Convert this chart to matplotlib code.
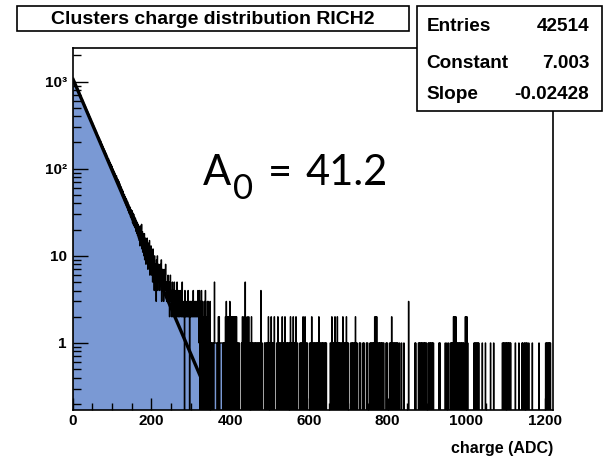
import numpy as np
import matplotlib
matplotlib.use("Agg")
import matplotlib.pyplot as plt
from matplotlib.patches import Rectangle
from matplotlib.ticker import MultipleLocator, FixedLocator, LogLocator, NullFormatter

plt.rcParams["font.family"] = ["Liberation Sans", "DejaVu Sans"]

# ---------------- data ----------------
title = "Clusters charge distribution RICH2"
x_label = "charge (ADC)"
stats_labels = ["Entries", "Constant", "Slope"]
stats_values = ["42514", "7.003", "-0.02428"]
annotation_parts = ["A", "0", "=", "41.2"]

fit_constant = 7.003
fit_slope = -0.02428
fit_range = (0, 325)

bin_width = 1          # ADC per bin
x_max = 1220
x_ticks = [0, 200, 400, 600, 800, 1000, 1200]
y_ticks = [1, 10, 100, 1000]
y_tick_labels = ["1", "10", "10\u00b2", "10\u00b3"]
y_limits = (0.17, 2450)

# counts per 1-ADC bin, charge 0..319 (read / estimated from the picture)
head_counts = [
    1030, 1068, 1041, 1012, 1019, 968, 979, 921, 934, 880,      # 0
    871, 838, 846, 797, 779, 781, 741, 748, 707, 702,           # 10
    676, 684, 642, 641, 613, 618, 581, 586, 557, 553,           # 20
    544, 516, 522, 492, 494, 467, 473, 446, 450, 425,           # 30
    413, 423, 396, 398, 375, 381, 356, 364, 340, 343,           # 40
    338, 319, 322, 301, 308, 287, 292, 274, 279, 262,           # 50
    266, 249, 254, 238, 241, 226, 231, 215, 221, 206,           # 60
    200, 208, 190, 195, 181, 188, 172, 179, 164, 170,           # 70
    166, 154, 160, 145, 152, 139, 145, 132, 138, 126,           # 80
    122, 130, 116, 123, 111, 118, 106, 113, 101, 108,           # 90
    105, 93, 100, 88, 95, 84, 91, 80, 87, 76,                   # 100
    75, 83, 70, 78, 67, 75, 64, 72, 61, 68,                     # 110
    66, 56, 63, 53, 60, 50, 57, 48, 55, 46,                     # 120
    44, 51, 42, 48, 40, 46, 38, 44, 36, 42,                     # 130
    41, 33, 39, 31, 37, 30, 36, 28, 34, 27,                     # 140
    26, 33, 24, 31, 23, 30, 22, 28, 21, 27,                     # 150
    26, 19, 25, 18, 24, 17, 23, 16, 22, 15,                     # 160
    21, 13, 22, 14, 20, 23, 12, 19, 11, 18,                     # 170
    17, 10, 18, 9, 16, 13, 8, 15, 11, 16,                       # 180
    13, 7, 14, 8, 12, 15, 6, 11, 9, 13,                         # 190
    11, 6, 10, 5, 12, 7, 9, 4, 10, 8,                           # 200
    8, 6, 3, 9, 5, 10, 4, 7, 8, 5,                              # 210
    7, 4, 8, 5, 6, 9, 3, 6, 7, 4,                               # 220
    6, 3, 7, 5, 4, 6, 8, 4, 5, 3,                               # 230
    5, 3, 6, 4, 3, 5, 2, 4, 6, 3,                               # 240
    4, 2, 3, 5, 2, 3, 4, 2, 5, 3,                               # 250
    3, 2, 4, 2, 3, 5, 2, 3, 2, 4,                               # 260
    2, 3, 2, 4, 3, 2, 3, 2, 5, 2,                               # 270
    3, 2, 2, 3, 0, 4, 2, 3, 2, 2,                               # 280
    3, 2, 2, 4, 2, 2, 3, 0, 2, 3,                               # 290
    2, 3, 2, 2, 3, 2, 4, 2, 2, 3,                               # 300
    2, 2, 3, 2, 2, 3, 2, 2, 4, 2,                               # 310
]

# counts per 1-ADC bin, charge 320..1219, one digit per bin (estimated)
tail_counts = (
    "3140230412"  # 320
    "3021032410"  # 330
    "2031302103"  # 340
    "1010110101"  # 350
    "5111111010"  # 360
    "2020111111"  # 370
    "1101011021"  # 380
    "3021202103"  # 390
    "1202120121"  # 400
    "0201202110"  # 410
    "1101000001"  # 420
    "0210121050"  # 430
    "1102010210"  # 440
    "1101201101"  # 450
    "1011010110"  # 460
    "1101011040"  # 470
    "1100000101"  # 480
    "1101101201"  # 490
    "0110210101"  # 500
    "1020000010"  # 510
    "1201101011"  # 520
    "0120110102"  # 530
    "1011010110"  # 540
    "1012010110"  # 550
    "2010110201"  # 560
    "1100000101"  # 570
    "1010121010"  # 580
    "2011011000"  # 590
    "0010110201"  # 600
    "1011010110"  # 610
    "1010121011"  # 620
    "0110101101"  # 630
    "1010100000"  # 640
    "0000110120"  # 650
    "1101012011"  # 660
    "0120110101"  # 670
    "1011012011"  # 680
    "0101120101"  # 690
    "1000001011"  # 700
    "0101101021"  # 710
    "0110000010"  # 720
    "1100000101"  # 730
    "1000001011"  # 740
    "0000010110"  # 750
    "1011010210"  # 760
    "2120101101"  # 770
    "0110101101"  # 780
    "1000001011"  # 790
    "0000010110"  # 800
    "2101101011"  # 810
    "0101101000"  # 820
    "1000010000"  # 830
    "0100000000"  # 840
    "0003000000"  # 850
    "0000000001"  # 860
    "0100000010"  # 870
    "1011010110"  # 880
    "1101011010"  # 890
    "0001011010"  # 900
    "1101011000"  # 910
    "0000000000"  # 920
    "1011000000"  # 930
    "0000001000"  # 940
    "1000100001"  # 950
    "1010110212"  # 960
    "0212011010"  # 970
    "1101011010"  # 980
    "1101000212"  # 990
    "0201000000"  # 1000
    "0000000001"  # 1010
    "0110101101"  # 1020
    "0100000000"  # 1030
    "1000000010"  # 1040
    "0000000000"  # 1050
    "0100000001"  # 1060
    "0000000000"  # 1070
    "0000000000"  # 1080
    "0110101101"  # 1090
    "1010110101"  # 1100
    "1010000000"  # 1110
    "0000100000"  # 1120
    "0001000000"  # 1130
    "0101000101"  # 1140
    "0010100010"  # 1150
    "0000000100"  # 1160
    "0000000000"  # 1170
    "0000100000"  # 1180
    "0000000000"  # 1190
    "0110101101"  # 1200
    "0101000000"  # 1210
)

fill_color = "#7a99d4"

# ---------------- figure ----------------
W, H = 608, 458
fig = plt.figure(figsize=(W / 100, H / 100), dpi=100)


def fx(px):
    return px / W


def fy(py):
    return 1 - py / H


ax_left, ax_right, ax_top, ax_bottom = 72.5, 553.0, 47.7, 410.0
ax = fig.add_axes([fx(ax_left), fy(ax_bottom), (ax_right - ax_left) / W,
                   (ax_bottom - ax_top) / H])

counts = np.array(head_counts + [int(c) for c in tail_counts], dtype=float)
edges = np.arange(0, len(counts) + 1) * bin_width
floor = 1e-3
plot_counts = np.where(counts > 0, counts, floor)

ax.stairs(plot_counts, edges, baseline=floor, fill=True, color=fill_color,
          lw=0, zorder=1)
ax.stairs(plot_counts, edges, baseline=floor, color="black", lw=0.95, zorder=2)

xf = np.linspace(fit_range[0], fit_range[1], 200)
ax.plot(xf, np.exp(fit_constant + fit_slope * xf), color="black", lw=2.4,
        zorder=3, solid_capstyle="butt")

ax.set_yscale("log")
ax.set_xlim(0, x_max)
ax.set_ylim(*y_limits)

ax.set_xticks(x_ticks)
ax.set_xticklabels([str(t) for t in x_ticks])
ax.xaxis.set_minor_locator(MultipleLocator(50))
ax.set_yticks(y_ticks)
ax.set_yticklabels(y_tick_labels)
ax.yaxis.set_minor_locator(LogLocator(base=10, subs=np.arange(2, 10), numticks=20))
ax.yaxis.set_minor_formatter(NullFormatter())

ax.tick_params(axis="both", which="both", direction="in", top=False, right=False)
ax.tick_params(axis="y", which="major", length=11, width=1, pad=4, labelsize=11)
ax.tick_params(axis="y", which="minor", length=5.8, width=1)
ax.tick_params(axis="x", which="major", length=8.4, width=1, pad=3, labelsize=11)
ax.tick_params(axis="x", which="minor", length=4.8, width=1)
for lab in ax.get_xticklabels() + ax.get_yticklabels():
    lab.set_fontweight("bold")
for sp in ax.spines.values():
    sp.set_linewidth(1.2)
    sp.set_zorder(5)

# x axis title
fig.text(fx(553), fy(448), x_label, ha="right", va="center", fontsize=11.5,
         fontweight="bold")

# title box
fig.add_artist(Rectangle((fx(16.7), fy(31)), (409.3 - 16.7) / W, (31 - 5.7) / H,
                         transform=fig.transFigure, facecolor="white",
                         edgecolor="black", lw=1.2, zorder=10))
fig.text(fx(213), fy(24), title, ha="center", va="baseline", fontsize=14,
         fontweight="bold", zorder=11)

# stats box
fig.add_artist(Rectangle((fx(417.3), fy(111)), (601.7 - 417.3) / W, (111 - 5.7) / H,
                         transform=fig.transFigure, facecolor="white",
                         edgecolor="black", lw=1.2, zorder=10))
row_baselines = [31, 68, 99]
for lab, val, yb in zip(stats_labels, stats_values, row_baselines):
    fig.text(fx(426.7), fy(yb), lab, ha="left", va="baseline", fontsize=13.7,
             fontweight="bold", zorder=11)
    fig.text(fx(589.3), fy(yb), val, ha="right", va="baseline", fontsize=13.7,
             fontweight="bold", zorder=11)

# annotation A_0 = 41.2
ann_font = ["Lato", "DejaVu Sans"]
fig.text(fx(203), fy(185), annotation_parts[0], ha="left", va="baseline",
         fontsize=30, family=ann_font, zorder=11)
fig.text(fx(233), fy(199), annotation_parts[1], ha="left", va="baseline",
         fontsize=25, family=ann_font, zorder=11)
fig.text(fx(268), fy(185), annotation_parts[2], ha="left", va="baseline",
         fontsize=30, family=ann_font, zorder=11)
fig.text(fx(305), fy(185), annotation_parts[3], ha="left", va="baseline",
         fontsize=30, family=ann_font, zorder=11)

fig.savefig("out.png", dpi=100)
